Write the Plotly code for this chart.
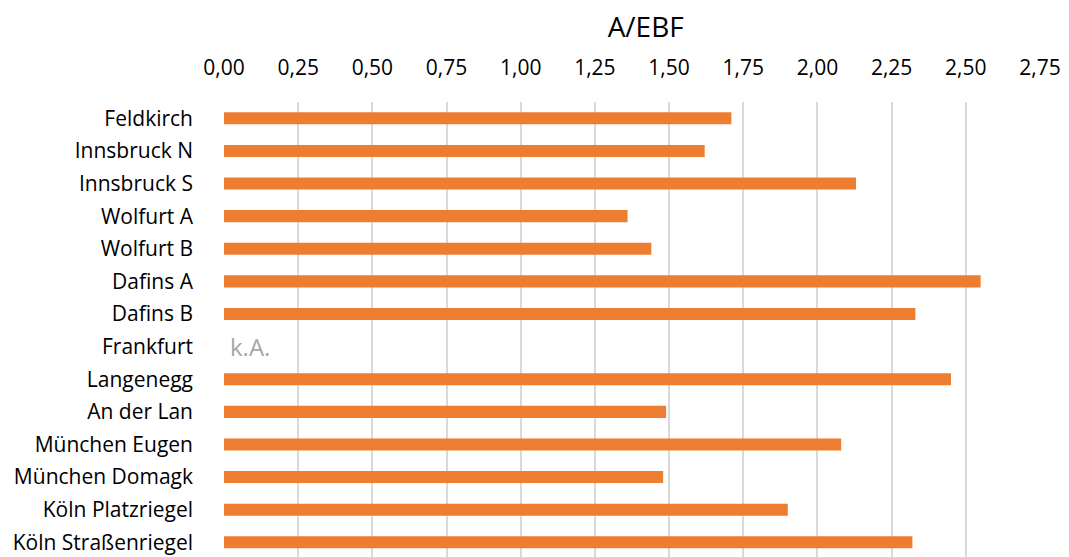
import plotly.graph_objects as go

# Kennwert A/EBF je Projekt
projekte = [
    "Feldkirch", "Innsbruck N", "Innsbruck S", "Wolfurt A", "Wolfurt B",
    "Dafins A", "Dafins B", "Frankfurt", "Langenegg", "An der Lan",
    "München Eugen", "München Domagk", "Köln Platzriegel", "Köln Straßenriegel",
]
a_ebf = [1.71, 1.62, 2.13, 1.36, 1.44, 2.55, 2.33, None, 2.45, 1.49,
         2.08, 1.48, 1.90, 2.32]
tick_werte = [0, 0.25, 0.5, 0.75, 1.0, 1.25, 1.5, 1.75, 2.0, 2.25, 2.5, 2.75]
tick_texte = ["0,00", "0,25", "0,50", "0,75", "1,00", "1,25", "1,50",
              "1,75", "2,00", "2,25", "2,50", "2,75"]
keine_angabe = "k.A."

FONT = "'Open Sans', Lato, sans-serif"

fig = go.Figure(go.Bar(
    x=a_ebf,
    y=projekte,
    orientation="h",
    width=0.37,
    marker=dict(color="#ED7D31", line=dict(width=0)),
    hoverinfo="x+y",
))

# Hinweis für Projekte ohne Wert
for name, wert in zip(projekte, a_ebf):
    if wert is None:
        fig.add_annotation(
            x=0, y=name, xref="x", yref="y", text=keine_angabe,
            showarrow=False, xanchor="left", xshift=4,
            font=dict(family=FONT, size=24, color="#A6A6A6"),
        )

fig.update_layout(
    width=1069, height=557,
    margin=dict(l=224, r=29, t=102, b=0),
    paper_bgcolor="white", plot_bgcolor="white",
    title=dict(text="A/EBF", x=0.604, xanchor="center", y=0.952, yanchor="middle",
               font=dict(family=FONT, size=28, color="#000000")),
    showlegend=False,
    font=dict(family=FONT, size=21, color="#000000"),
)
fig.update_xaxes(
    side="top", range=[0, 2.75], tickvals=tick_werte, ticktext=tick_texte,
    showgrid=True, gridcolor="#D9D9D9", gridwidth=1.5,
    zeroline=False, showline=False, ticks="", ticklabelstandoff=22,
    tickfont=dict(family=FONT, size=21, color="#000000"),
)
fig.update_yaxes(
    range=[13.45, -0.5], showgrid=False, zeroline=False, showline=False,
    ticks="", ticklabelstandoff=30,
    tickfont=dict(family=FONT, size=21, color="#000000"),
)

fig.write_html("out.html")
